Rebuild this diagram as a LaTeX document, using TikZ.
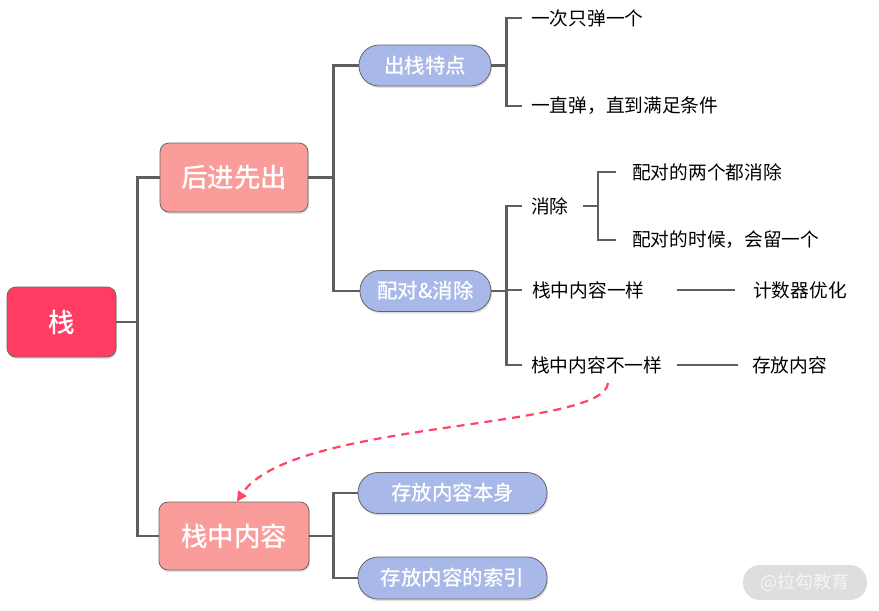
\documentclass[tikz,border=0pt]{standalone}
\usepackage{fontspec}
\setmainfont{Noto Sans CJK SC}
\newfontfamily\medfont{Noto Sans CJK SC Medium}
\usetikzlibrary{shadows,arrows.meta}
\definecolor{rootc}{HTML}{FF3D63}
\definecolor{salmon}{HTML}{FA9D9A}
\definecolor{peri}{HTML}{A8B8E8}
\definecolor{linec}{HTML}{5E5E5E}
\definecolor{dashc}{HTML}{FF4468}
\definecolor{edgec}{HTML}{666666}
\definecolor{wmc}{HTML}{DEDEDE}
\tikzset{
  box/.style={draw=edgec, line width=0.8pt, rounded corners=9pt, text=white, inner sep=0pt,
    drop shadow={opacity=0.25, shadow xshift=1pt, shadow yshift=-2pt},
    font=\fontsize{26.5}{30}\medfont},
  pill/.style={draw=edgec, line width=0.8pt, rounded corners=20pt, fill=peri, text=white, inner sep=0pt,
    drop shadow={opacity=0.25, shadow xshift=1pt, shadow yshift=-2pt},
    minimum height=41pt, font=\fontsize{20.5}{24}\medfont},
  leaf/.style={anchor=west, inner sep=0pt, font=\fontsize{18.7}{22}\selectfont},
  conn/.style={draw=linec, line width=2.6pt},
}
\begin{document}
\begin{tikzpicture}[x=1pt,y=-1pt]
\useasboundingbox (0,0) rectangle (879,611);
% main nodes
\node[box, fill=rootc, minimum width=109pt, minimum height=70pt] (root) at (61.5,322) {栈};
\node[box, fill=salmon, minimum width=148pt, minimum height=69pt] (hj) at (234,177.5) {后进先出};
\node[box, fill=salmon, minimum width=150pt, minimum height=68pt] (zz) at (234,536) {栈中内容};
\node[pill, minimum width=132pt] (cz) at (425,65.5) {出栈特点};
\node[pill, minimum width=131pt] (pd) at (425.5,291) {配对\&消除};
\node[pill, minimum width=189pt] (b1) at (452.5,493) {存放内容本身};
\node[pill, minimum width=189pt, minimum height=42pt] (b2) at (452.5,578) {存放内容的索引};
% leaves
\node[leaf] (l1) at (531,18) {一次只弹一个};
\node[leaf] (l2) at (531,106) {一直弹，直到满足条件};
\node[leaf] (xc) at (531,206) {消除};
\node[leaf] (s1) at (532,290) {栈中内容一样};
\node[leaf] (s2) at (531,365) {栈中内容不一样};
\node[leaf] (p1) at (632,172) {配对的两个都消除};
\node[leaf] (p2) at (632,240) {配对的时候，会留一个};
\node[leaf] (c1) at (753,290) {计数器优化};
\node[leaf] (c2) at (752,365) {存放内容};
% watermark
\node[fill=wmc, rounded corners=17pt, minimum width=124pt, minimum height=35pt, inner sep=0pt,
  text=white!96!black, font=\fontsize{18}{20}\selectfont] (wm) at (805,582.5) {@拉勾教育};
% connectors
\draw[conn] (root.east) -- ++(21,0) |- (hj.west);
\draw[conn] (root.east) -- ++(21,0) |- (zz.west);
\draw[conn] (hj.east) -- ++(25,0) |- (cz.west);
\draw[conn] (hj.east) -- ++(25,0) |- (pd.west);
\draw[conn] (zz.east) -- ++(24,0) |- (b1.west);
\draw[conn] (zz.east) -- ++(24,0) |- (b2.west);
\draw[conn] (cz.east) -- ++(15,0) |- ([xshift=-9pt]l1.west);
\draw[conn] (cz.east) -- ++(15,0) |- ([xshift=-9pt]l2.west);
\draw[conn] (pd.east) -- ++(15,0) |- ([xshift=-9pt]xc.west);
\draw[conn] (pd.east) -- ++(15,0) |- ([xshift=-10pt]s1.west);
\draw[conn] (pd.east) -- ++(15,0) |- ([xshift=-9pt]s2.west);
\draw[conn] ([xshift=14pt]xc.east) -- ++(15,0) |- ([xshift=-16pt]p1.west);
\draw[conn] ([xshift=14pt]xc.east) -- ++(15,0) |- ([xshift=-16pt]p2.west);
\draw[conn] ([xshift=-76pt]c1.west) -- ([xshift=-18pt]c1.west);
\draw[conn] ([xshift=-75pt]c2.west) -- ([xshift=-14pt]c2.west);
% dashed relation
\coordinate (ds) at (608,383);
\draw[dashc, line width=2.2pt, dash pattern=on 8pt off 6pt, -{Triangle[length=10pt,width=10pt]}]
  (ds) .. controls (605,430) and (290,420) .. ([xshift=3pt]zz.north);
\end{tikzpicture}
\end{document}
